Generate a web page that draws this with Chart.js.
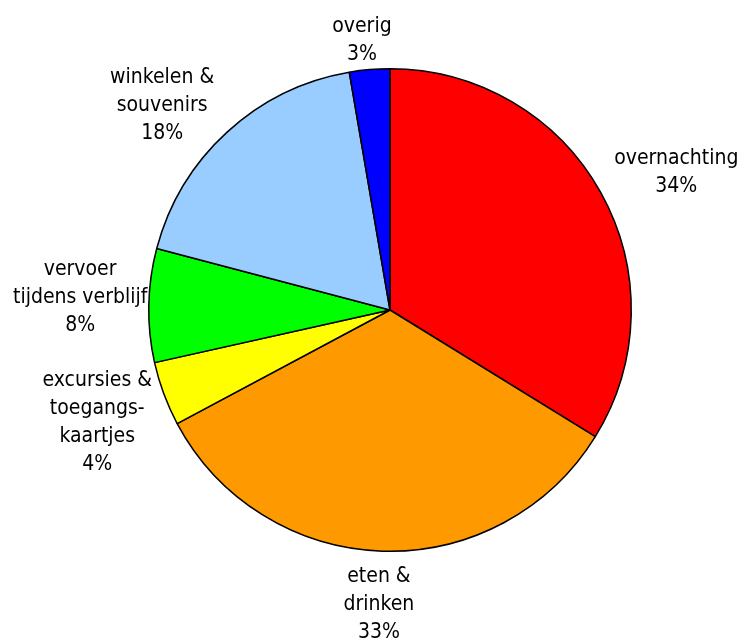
<!DOCTYPE html>
<html lang="nl">
<head>
  <meta charset="UTF-8">
  <title>Bestedingen</title>
  <script src="https://cdn.jsdelivr.net/npm/chart.js"></script>
  <style>
    html, body { margin: 0; padding: 0; background: #fff; }
    #wrap { width: 742px; height: 642px; }
  </style>
</head>
<body>
  <div id="wrap"><canvas id="pieChart"></canvas></div>
  <script>
    // categories, clockwise from the top
    const categories = [
      ['overnachting'],
      ['eten &', 'drinken'],
      ['excursies &', 'toegangs-', 'kaartjes'],
      ['vervoer', 'tijdens verblijf'],
      ['winkelen &', 'souvenirs'],
      ['overig']
    ];
    const shares = [33.8, 33.4, 4.3, 7.6, 18.2, 2.7];
    const sliceColors = ['#FF0000', '#FF9900', '#FFFF00', '#00FF00', '#99CCFF', '#0000FF'];

    const labelFont = '21px "DejaVu Sans Condensed", "DejaVu Sans", sans-serif';
    const lineHeight = 28;
    // small hand tweaks so the labels sit where the original put them
    const labelNudge = [[10, 0], [-2, 5], [-3, 5], [0, -7], [-21, 14], [-4, 9]];

    const outsideLabels = {
      id: 'outsideLabels',
      afterDatasetsDraw(chart) {
        const ctx = chart.ctx;
        const arcs = chart.getDatasetMeta(0).data;
        ctx.save();
        ctx.font = labelFont;
        ctx.fillStyle = '#000';
        ctx.textAlign = 'center';
        ctx.textBaseline = 'middle';
        arcs.forEach((arc, i) => {
          const lines = categories[i].concat([Math.round(shares[i]) + '%']);
          const w = Math.max(...lines.map(l => ctx.measureText(l).width));
          const h = lines.length * lineHeight;
          const mid = (arc.startAngle + arc.endAngle) / 2;
          const dx = Math.cos(mid), dy = Math.sin(mid);
          const r = arc.outerRadius + 13;
          let cx = arc.x + dx * r + dx * w / 2;
          let cy = arc.y + dy * r + dy * h / 2;
          cx = Math.min(Math.max(cx, 13 + w / 2), chart.width - 4 - w / 2);
          cy = Math.min(Math.max(cy, 4 + h / 2), chart.height - h / 2);
          cx += labelNudge[i][0];
          cy += labelNudge[i][1];
          lines.forEach((l, k) => {
            ctx.fillText(l, cx, cy - h / 2 + lineHeight * (k + 0.5));
          });
        });
        ctx.restore();
      }
    };

    new Chart(document.getElementById('pieChart'), {
      type: 'pie',
      data: {
        labels: categories.map(c => c.join(' ')),
        datasets: [{
          data: shares,
          backgroundColor: sliceColors,
          borderColor: '#000',
          borderWidth: 1.5
        }]
      },
      options: {
        responsive: true,
        maintainAspectRatio: false,
        animation: false,
        layout: { padding: { left: 148, right: 110, top: 68, bottom: 90 } },
        plugins: {
          legend: { display: false },
          tooltip: { enabled: false }
        }
      },
      plugins: [outsideLabels]
    });
  </script>
</body>
</html>
